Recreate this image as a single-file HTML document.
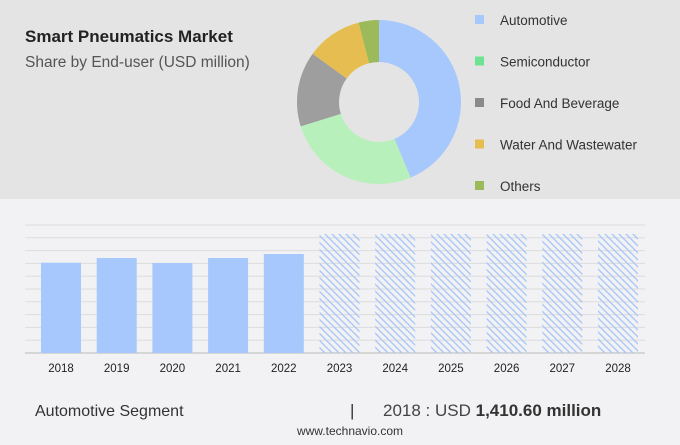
<!DOCTYPE html>
<html><head><meta charset="utf-8"><style>
body{margin:0;width:680px;height:440px;overflow:hidden;font-family:"Liberation Sans",sans-serif;background:#f2f2f4}
</style></head><body>
<svg width="680" height="440" xmlns="http://www.w3.org/2000/svg">
<defs>
<pattern id="hatch" patternUnits="userSpaceOnUse" width="7" height="7">
<path d="M-1,-1 L8,8 M-1,6 L1,8 M6,-1 L8,1" stroke="#a9c8f7" stroke-width="1.4"/>
</pattern>
</defs>
<rect x="0" y="0" width="680" height="199" fill="#e4e4e4"/>
<text x="25" y="42" font-size="17" font-weight="bold" fill="#222">Smart Pneumatics Market</text>
<text x="25" y="67" font-size="15.5" fill="#555">Share by End-user (USD million)</text>
<g id="donut"></g>
<g id="legend"></g>
<g id="grid"></g>
<g id="bars"></g>
<text x="35" y="416" font-size="16" fill="#333">Automotive Segment</text>
<text x="350" y="416" font-size="17" fill="#333">|</text>
<text x="383" y="416" font-size="17" fill="#444">2018 : USD <tspan font-weight="bold" fill="#333">1,410.60 million</tspan></text>
<text x="350" y="435" font-size="12" fill="#333" text-anchor="middle">www.technavio.com</text>
</svg>
<script>
const segNames=["Automotive","Semiconductor","Food And Beverage","Water And Wastewater","Others"];
const segShares=[43.7,26.5,14.8,11,4];
const segColors=["#a6c8fc","#b7f0bb","#9e9e9e","#e6bd50","#9cba5a"];
const legendColors=["#a6c8fc","#6ee391","#8a8a8a","#e6bd50","#9cba5a"];
const years=["2018","2019","2020","2021","2022","2023","2024","2025","2026","2027","2028"];
const values=[1410.6,1484,1406,1484,1547,1860,1860,1860,1860,1860,1860];
const forecast=[false,false,false,false,false,true,true,true,true,true,true];
const ns="http://www.w3.org/2000/svg";
function mk(t,a,p){const e=document.createElementNS(ns,t);for(const k in a)e.setAttribute(k,a[k]);p.appendChild(e);return e;}
const cx=379,cy=102,R=82,r=40;const dg=document.getElementById('donut');
const tot=segShares.reduce((a,b)=>a+b,0);let acc=0;
function pt(rad,f){const a=f*2*Math.PI;return [cx+rad*Math.sin(a),cy-rad*Math.cos(a)];}
segShares.forEach((s,i)=>{const f0=acc/tot;acc+=s;const f1=acc/tot;const big=(f1-f0)>0.5?1:0;
const [x0,y0]=pt(R,f0),[x1,y1]=pt(R,f1),[x2,y2]=pt(r,f1),[x3,y3]=pt(r,f0);
const p=mk('path',{d:`M${x0},${y0}A${R},${R} 0 ${big} 1 ${x1},${y1}L${x2},${y2}A${r},${r} 0 ${big} 0 ${x3},${y3}Z`,fill:segColors[i]},dg);

});
const legG=document.getElementById('legend');
segNames.forEach((n,i)=>{const y=20+i*41.5;
const g=mk('g',{},legG);


mk('rect',{x:475,y:y-5,width:9,height:9,fill:legendColors[i]},g);
const t=mk('text',{x:500,y:y+5,'font-size':13.5,fill:'#333'},g);t.textContent=n;});
const yTop=225,yBase=353,vmax=2000,bx0=41,step=55.7,bw=40;
function ys(v){return yBase-(v/vmax)*(yBase-yTop);}
const gg=document.getElementById('grid');
for(let i=0;i<=10;i++){const y=yTop+i*(yBase-yTop)/10;const l=mk('line',{x1:25,x2:645,y1:y,y2:y,stroke:i==10?'#ccc':'#dcdcdc','stroke-width':i==10?1.5:1},gg);

}
const bg=document.getElementById('bars');
years.forEach((yr,i)=>{const x=bx0+i*step;const y=ys(values[i]);
const b=mk('rect',{x:x,y:y,width:bw,height:yBase-y,fill:forecast[i]?'url(#hatch)':'#a6c8fc'},bg);


const t=mk('text',{x:x+bw/2,y:372,'font-size':11.5,fill:'#222','text-anchor':'middle'},bg);t.textContent=yr;

});
</script>
</body></html>
